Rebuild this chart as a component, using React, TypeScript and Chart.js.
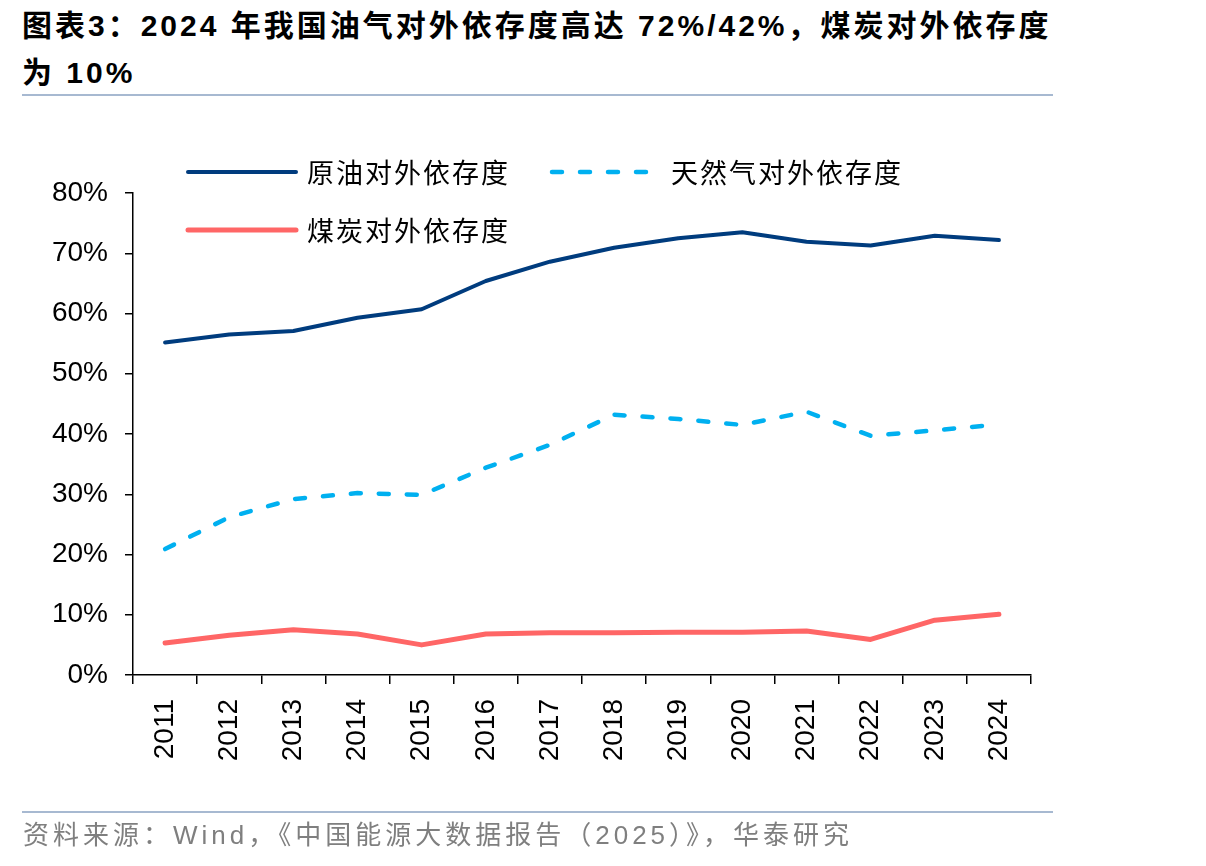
import React, { useEffect, useRef } from "react";
import { Chart, registerables } from "chart.js";

Chart.register(...registerables);

// Years on the category axis
const years = ["2011", "2012", "2013", "2014", "2015", "2016", "2017", "2018", "2019", "2020", "2021", "2022", "2023", "2024"];

// Import dependency ratios, in percent
const crudeOil = [55.2, 56.5, 57.1, 59.3, 60.7, 65.4, 68.6, 70.9, 72.5, 73.5, 71.9, 71.3, 72.9, 72.2];
const naturalGas = [20.9, 26.2, 29.2, 30.2, 29.9, 34.4, 38.2, 43.2, 42.5, 41.5, 43.7, 39.7, 40.6, 41.6];
const coal = [5.3, 6.6, 7.5, 6.8, 5.0, 6.8, 7.0, 7.0, 7.1, 7.1, 7.3, 5.9, 9.1, 10.1];

const seriesNames = ["原油对外依存度", "天然气对外依存度", "煤炭对外依存度"];

// y-axis ticks (percent)
const yMin = 0;
const yMax = 80;
const yStep = 10;

const titleLines = ["图表3：2024 年我国油气对外依存度高达 72%/42%，煤炭对外依存度", "为 10%"];
const sourceText = "资料来源：Wind，《中国能源大数据报告（2025）》，华泰研究";

const LATIN = '"Liberation Sans", Arial';
const CJK = '"Noto Sans CJK SC"';

// Legend entry positions (two on the first row, one on the second)
const legendSlots = [
  { x: 188, y: 172 },
  { x: 552, y: 172 },
  { x: 188, y: 230 },
];

const legendPlugin = {
  id: "rowLegend",
  afterDraw(chart: any) {
    const ctx = chart.ctx;
    chart.data.datasets.forEach((ds: any, i: number) => {
      const slot = legendSlots[i];
      if (!slot) return;
      ctx.save();
      ctx.strokeStyle = ds.borderColor;
      ctx.lineWidth = ds.borderWidth;
      ctx.lineCap = "round";
      ctx.setLineDash(ds.borderDash || []);
      ctx.beginPath();
      ctx.moveTo(slot.x, slot.y);
      ctx.lineTo(slot.x + 108, slot.y);
      ctx.stroke();
      ctx.setLineDash([]);
      ctx.fillStyle = "#000";
      ctx.font = `27px ${CJK}`;
      (ctx as any).letterSpacing = "2px";
      ctx.textBaseline = "middle";
      ctx.textAlign = "left";
      ctx.fillText(ds.label, slot.x + 119, slot.y + 1);
      ctx.restore();
    });
  },
};

export default function App() {
  const canvasRef = useRef<HTMLCanvasElement | null>(null);

  useEffect(() => {
    const canvas = canvasRef.current;
    if (!canvas) return;
    const chart = new Chart(canvas, {
      type: "line",
      data: {
        labels: years,
        datasets: [
          {
            label: seriesNames[0],
            data: crudeOil,
            borderColor: "#003C7E",
            borderWidth: 4,
            pointRadius: 0,
            borderCapStyle: "round",
            borderJoinStyle: "round",
            tension: 0,
          },
          {
            label: seriesNames[1],
            data: naturalGas,
            borderColor: "#00B0F0",
            borderWidth: 4.5,
            borderDash: [10, 18],
            pointRadius: 0,
            borderCapStyle: "round",
            borderJoinStyle: "round",
            tension: 0,
          },
          {
            label: seriesNames[2],
            data: coal,
            borderColor: "#FF6666",
            borderWidth: 5,
            pointRadius: 0,
            borderCapStyle: "round",
            borderJoinStyle: "round",
            tension: 0,
          },
        ],
      },
      options: {
        responsive: false,
        animation: false,
        devicePixelRatio: 1,
        layout: { padding: { left: 33, right: 175, top: 193, bottom: 71 } },
        plugins: {
          legend: { display: false },
          title: { display: false },
          tooltip: { enabled: false },
        },
        scales: {
          x: {
            type: "category",
            offset: true,
            grid: {
              offset: true,
              drawOnChartArea: false,
              drawTicks: true,
              tickLength: 9,
              color: "#000",
              lineWidth: 1.5,
            },
            border: { color: "#000", width: 1.5 },
            ticks: {
              minRotation: 90,
              maxRotation: 90,
              autoSkip: false,
              padding: 15,
              color: "#000",
              font: { family: LATIN, size: 28 },
            },
            afterFit: (scale: any) => {
              scale.height = 120;
            },
          },
          y: {
            min: yMin,
            max: yMax,
            grid: {
              drawOnChartArea: false,
              drawTicks: true,
              tickLength: 8,
              color: "#000",
              lineWidth: 1.5,
            },
            border: { color: "#000", width: 1.5 },
            ticks: {
              stepSize: yStep,
              padding: 17,
              color: "#000",
              font: { family: LATIN, size: 28 },
              callback: (v: any) => `${v}%`,
            },
            afterFit: (scale: any) => {
              scale.width = 100;
            },
          },
        },
      },
      plugins: [legendPlugin],
    } as any);
    return () => chart.destroy();
  }, []);

  return (
    <div
      style={{
        position: "fixed",
        left: 0,
        top: 0,
        width: 1206,
        height: 866,
        background: "#fff",
        overflow: "hidden",
      }}
    >
      <div
        style={{
          position: "absolute",
          left: 22,
          top: 2,
          fontFamily: `${LATIN}, ${CJK}`,
          fontWeight: 700,
          fontSize: 30,
          letterSpacing: "3px",
          lineHeight: "47px",
          color: "#000",
          whiteSpace: "nowrap",
        }}
      >
        {titleLines.map((t, i) => (
          <div key={i}>{t}</div>
        ))}
      </div>
      <div
        style={{
          position: "absolute",
          left: 22,
          top: 94,
          width: 1031,
          height: 2,
          background: "#A7B9D1",
        }}
      />
      <canvas
        ref={canvasRef}
        width={1206}
        height={866}
        style={{ position: "absolute", left: 0, top: 0, width: 1206, height: 866 }}
      />
      <div
        style={{
          position: "absolute",
          left: 22,
          top: 811,
          width: 1031,
          height: 2,
          background: "#A7B9D1",
        }}
      />
      <div
        style={{
          position: "absolute",
          left: 23,
          top: 817,
          fontFamily: `${LATIN}, ${CJK}`,
          fontSize: 26,
          letterSpacing: "4px",
          lineHeight: "36px",
          color: "#7F7F7F",
          whiteSpace: "nowrap",
        }}
      >
        {sourceText}
      </div>
    </div>
  );
}
